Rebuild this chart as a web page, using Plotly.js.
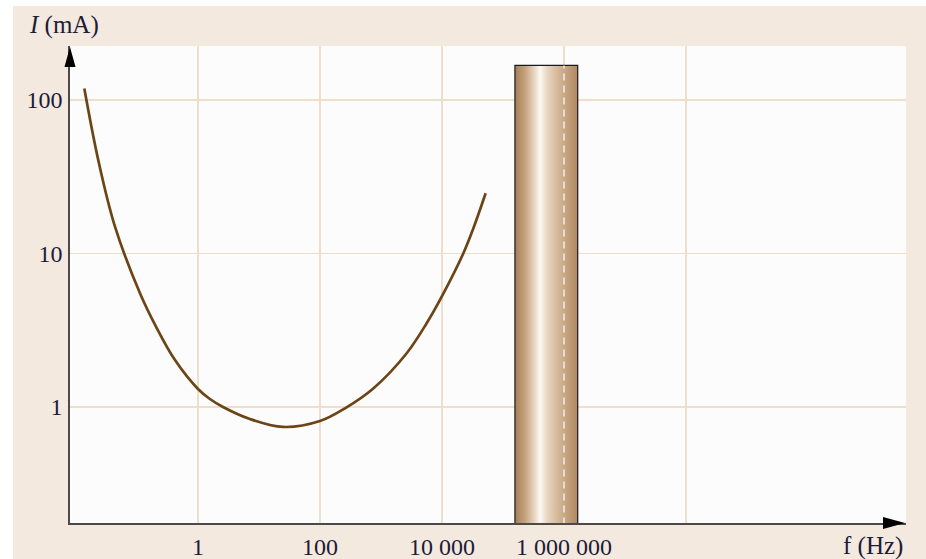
<!DOCTYPE html>
<html>
<head>
<meta charset="utf-8">
<script src="https://cdn.plot.ly/plotly-3.0.1.min.js"></script>
<style>
  html, body { margin: 0; padding: 0; background: #ffffff; width: 926px; height: 559px; overflow: hidden; }
  #chart { position: absolute; left: 13px; top: 6px; width: 913px; height: 553px; }
</style>
</head>
<body>
<div id="chart"></div>
<script>
// Current vs frequency curve
const freqHz = [0.0137, 0.0232, 0.0436, 0.112, 0.205, 0.420, 1.0, 1.57, 2.57, 7.1, 24.7, 100, 257, 748, 2640, 5610, 10260, 22340, 32600, 52000];
const currentmA = [119, 40.6, 14.96, 5.51, 3.34, 2.02, 1.31, 1.127, 1.0, 0.835, 0.741, 0.81, 0.98, 1.32, 2.24, 3.51, 5.37, 10.0, 14.55, 24.7];

// Band (bar) between two frequencies
const bandStartHz = 1.57e5;
const bandEndHz = 1.68e6;
const bandTopmA = 168;
const bandFloormA = 0.1;
const bandMarkHz = 1e6;

// Axis ticks
const xTickVals = [1, 100, 1e4, 1e6, 1e8];
const xTickText = ['1', '100', '10\u2005000', '1\u2005000\u2005000', ''];
const yTickVals = [1, 10, 100];
const yTickText = ['1', '10', '100'];

const serif = 'Liberation Serif, Times New Roman, serif';
const txtColor = '#1c1c38';
const gridColor = '#eedfcc';

const traces = [
  {
    type: 'scatter', mode: 'lines',
    x: freqHz, y: currentmA,
    line: { color: '#6b4515', width: 2.7, shape: 'spline', smoothing: 1 },
    hoverinfo: 'skip'
  },
  {
    type: 'scatter', mode: 'lines',
    x: [bandStartHz, bandStartHz, bandEndHz, bandEndHz, bandStartHz],
    y: [bandFloormA, bandTopmA, bandTopmA, bandFloormA, bandFloormA],
    fill: 'toself',
    fillgradient: {
      type: 'horizontal',
      colorscale: [
        [0.0, '#a67e54'],
        [0.16, '#c4a27d'],
        [0.32, '#ead9c6'],
        [0.40, '#fdf9f3'],
        [0.52, '#e8d4bf'],
        [0.72, '#d0b291'],
        [1.0, '#b08760']
      ]
    },
    line: { color: '#1a1a1a', width: 1.2 },
    hoverinfo: 'skip'
  },
  {
    type: 'scatter', mode: 'lines',
    x: [bandMarkHz, bandMarkHz],
    y: [bandFloormA, bandTopmA],
    line: { color: 'rgba(255,255,255,0.75)', width: 1.6, dash: '7px,5px' },
    hoverinfo: 'skip'
  }
];

const layout = {
  width: 913, height: 553,
  margin: { l: 57, r: 20, t: 40, b: 36 },
  paper_bgcolor: '#f3e9df',
  plot_bgcolor: '#fcfcfc',
  showlegend: false,
  hovermode: false,
  font: { family: serif, color: txtColor, size: 24 },
  xaxis: {
    type: 'log',
    range: [-2.098, 11.607],
    tickvals: xTickVals, ticktext: xTickText,
    showgrid: true, gridcolor: gridColor, gridwidth: 1.6,
    showline: true, linecolor: '#4a4a4a', linewidth: 1.6,
    zeroline: false, ticks: '',
    ticklabelstandoff: 2,
    tickfont: { family: serif, size: 24, color: txtColor }
  },
  yaxis: {
    type: 'log',
    range: [-0.756, 2.352],
    tickvals: yTickVals, ticktext: yTickText,
    showgrid: true, gridcolor: gridColor, gridwidth: 1.6,
    showline: true, linecolor: '#4a4a4a', linewidth: 1.6,
    zeroline: false, ticks: '',
    ticklabelstandoff: 1,
    tickfont: { family: serif, size: 24, color: txtColor }
  },
  shapes: [
    { type: 'path', xref: 'paper', yref: 'paper', layer: 'above',
      path: 'M -0.0066,0.956 L 0,0.998 L 0.0066,0.956 Z',
      fillcolor: '#000000', line: { width: 0 } },
    { type: 'path', xref: 'paper', yref: 'paper', layer: 'above',
      path: 'M 0.9725,0.0126 L 0.9988,0 L 0.9725,-0.0126 Z',
      fillcolor: '#000000', line: { width: 0 } }
  ],
  annotations: [
    { xref: 'paper', yref: 'paper', x: -0.051, y: 1.044, xanchor: 'left', yanchor: 'middle',
      text: '<i>I</i> (mA)', showarrow: false, font: { family: serif, size: 25, color: txtColor } },
    { xref: 'paper', yref: 'paper', x: 0.999, y: -0.048, xanchor: 'right', yanchor: 'middle',
      text: 'f (Hz)', showarrow: false, font: { family: serif, size: 25, color: txtColor } }
  ]
};

Plotly.newPlot('chart', traces, layout, { staticPlot: true, displayModeBar: false });
</script>
</body>
</html>
